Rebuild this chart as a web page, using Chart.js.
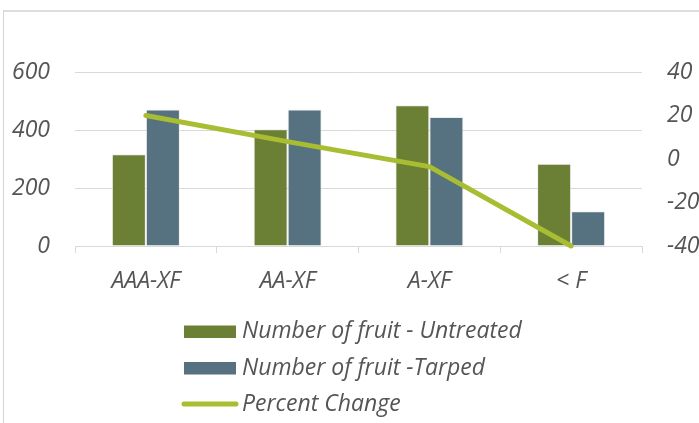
<!DOCTYPE html>
<html>
<head>
<meta charset="utf-8">
<script src="https://cdn.jsdelivr.net/npm/chart.js@4"></script>
<style>
  html,body{margin:0;padding:0;background:#fff;}
  #wrap{position:relative;width:699px;height:423px;overflow:hidden;}
  #frame{position:absolute;left:3px;top:10px;right:-5px;bottom:-5px;border-top:2px solid #dedede;border-left:1px solid #d4d4d4;}
  canvas{position:absolute;left:0;top:0;}
</style>
</head>
<body>
<div id="wrap">
  <div id="frame"></div>
  <canvas id="c" width="699" height="423"></canvas>
</div>
<script>
const categories = ['AAA-XF', 'AA-XF', 'A-XF', '< F'];
const untreated = [316, 403, 485, 284];
const tarped = [471, 471, 445, 120];
const percentChange = [20, 8, -3.5, -40];
const leftTicks = [0, 200, 400, 600];
const rightTicks = [-40, -20, 0, 20, 40];

const seriesLabels = ['Number of fruit - Untreated', 'Number of fruit -Tarped', 'Percent Change'];
const FONT = '"Open Sans", "Liberation Sans", sans-serif';
const TXT = '#555555';
const GRID = '#d9d9d9';
const FS = 23;

const legendPlugin = {
  id: 'vlegend',
  afterDraw(chart) {
    const ctx = chart.ctx;
    const ds = chart.data.datasets;
    const rows = [331.5, 368, 404];
    ctx.save();
    ctx.font = 'italic ' + FS + 'px ' + FONT;
    ctx.textBaseline = 'middle';
    ctx.textAlign = 'left';
    ds.forEach((d, i) => {
      const y = rows[i];
      if (d.type === 'line') {
        ctx.strokeStyle = d.borderColor;
        ctx.lineWidth = 5;
        ctx.lineCap = 'round';
        ctx.beginPath();
        ctx.moveTo(184, y);
        ctx.lineTo(236, y);
        ctx.stroke();
      } else {
        ctx.fillStyle = d.backgroundColor;
        ctx.fillRect(184, y - 6, 52, 12.5);
      }
      ctx.fillStyle = TXT;
      ctx.fillText(d.label, 242, y);
    });
    ctx.restore();
  }
};

new Chart(document.getElementById('c'), {
  data: {
    labels: categories,
    datasets: [
      {type: 'bar', label: seriesLabels[0], data: untreated, backgroundColor: '#6b7f35',
       borderColor: 'rgba(230,230,230,0.7)', borderWidth: 1, yAxisID: 'y', order: 2,
       categoryPercentage: 0.48, barPercentage: 1},
      {type: 'bar', label: seriesLabels[1], data: tarped, backgroundColor: '#56717f',
       borderColor: 'rgba(230,230,230,0.7)', borderWidth: 1, yAxisID: 'y', order: 2,
       categoryPercentage: 0.48, barPercentage: 1},
      {type: 'line', label: seriesLabels[2], data: percentChange, borderColor: '#a9bd32',
       backgroundColor: '#a9bd32', borderWidth: 5, pointRadius: 0, tension: 0,
       borderCapStyle: 'round', borderJoinStyle: 'round', yAxisID: 'y1', order: 0, clip: false}
    ]
  },
  options: {
    responsive: false,
    animation: false,
    events: [],
    layout: {padding: {top: 72, bottom: 127, left: 0, right: 0}},
    plugins: {legend: {display: false}, tooltip: {enabled: false}, title: {display: false}},
    scales: {
      x: {
        offset: true,
        grid: {display: true, drawOnChartArea: false, drawTicks: true, tickLength: 7, color: GRID, offset: true},
        border: {display: true, color: GRID, width: 1},
        ticks: {color: TXT, padding: 15, font: {family: FONT, size: FS, style: 'italic'}, maxRotation: 0},
        afterFit(s) { s.height = 50; }
      },
      y: {
        position: 'left', min: 0, max: 600,
        afterBuildTicks(s) { s.ticks = leftTicks.map(v => ({value: v})); },
        grid: {color: GRID, drawTicks: false, lineWidth: 1},
        border: {display: false},
        ticks: {color: TXT, padding: 25, font: {family: FONT, size: FS, style: 'italic'}},
        afterFit(s) { s.width = 75; }
      },
      y1: {
        position: 'right', min: -40, max: 40,
        afterBuildTicks(s) { s.ticks = rightTicks.map(v => ({value: v})); },
        grid: {drawOnChartArea: false, drawTicks: false},
        border: {display: false},
        ticks: {color: TXT, padding: 25, font: {family: FONT, size: FS, style: 'italic'}},
        afterFit(s) { s.width = 57; }
      }
    }
  },
  plugins: [legendPlugin]
});
</script>
</body>
</html>
